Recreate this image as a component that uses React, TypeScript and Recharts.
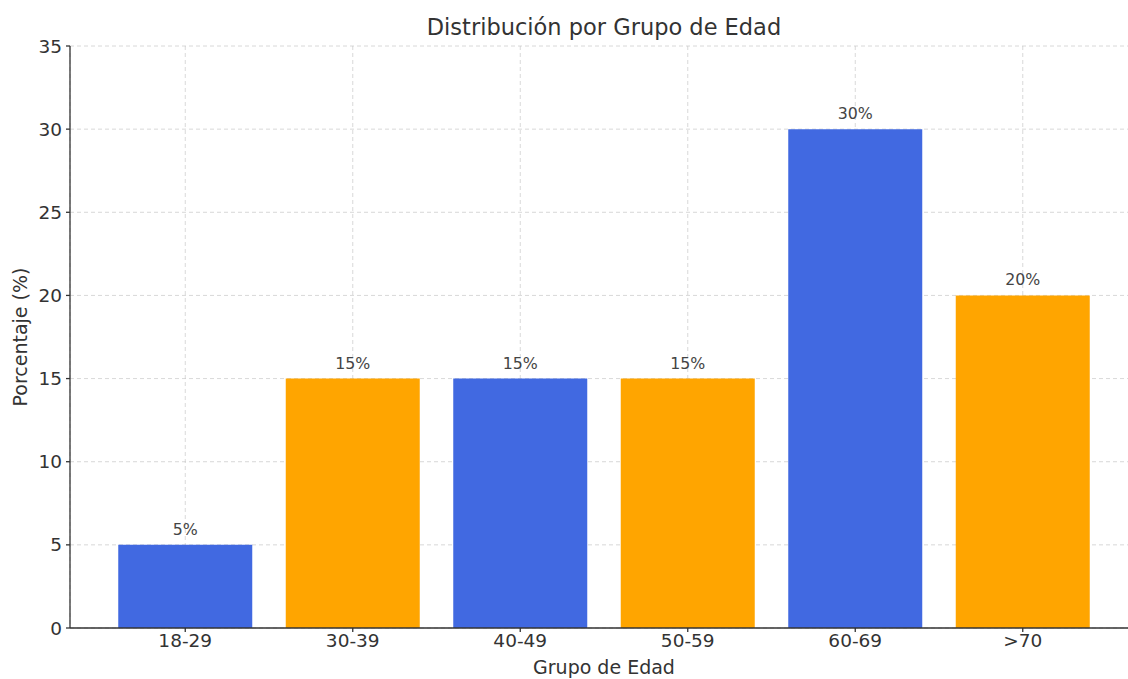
import React from 'react';
import { BarChart, Bar, XAxis, YAxis, CartesianGrid, Cell, LabelList } from 'recharts';

const grupos = ['18-29', '30-39', '40-49', '50-59', '60-69', '>70'];
const porcentajes = [5, 15, 15, 15, 30, 20];
const colores = ['#4169E1', '#FFA500', '#4169E1', '#FFA500', '#4169E1', '#FFA500'];
const yTicks = [0, 5, 10, 15, 20, 25, 30, 35];

const data = grupos.map((g, i) => ({ grupo: g, valor: porcentajes[i] }));

const font = '"DejaVu Sans", sans-serif';
const axisColor = '#333333';

export default function App() {
  return (
    <div style={{ position: 'fixed', left: 0, top: 0, width: 1128, height: 679, overflow: 'hidden', background: '#fff', fontFamily: font }}>
      <div style={{ position: 'absolute', left: 0, top: 12, width: 1208, textAlign: 'center', fontSize: 22.5, color: '#333', lineHeight: '30px' }}>
        Distribución por Grupo de Edad
      </div>
      <BarChart
        width={1140}
        height={679}
        data={data}
        margin={{ top: 46, right: 2, bottom: 0, left: 0 }}
        barCategoryGap="10%"
        style={{ fontFamily: font }}
      >
        <XAxis
          dataKey="grupo"
          height={51}
          padding={{ left: 31.5, right: 31.5 }}
          tick={{ fill: '#333', fontSize: 18.5 }}
          tickSize={4}
          tickMargin={2}
          stroke={axisColor}
          strokeWidth={1.3}
          label={{ value: 'Grupo de Edad', position: 'insideBottom', offset: 5, fill: '#333', fontSize: 19 }}
        />
        <YAxis
          width={70}
          domain={[0, 35]}
          ticks={yTicks}
          tick={{ fill: '#333', fontSize: 18.5 }}
          tickSize={4}
          tickMargin={4}
          stroke={axisColor}
          strokeWidth={1.3}
          label={{ value: 'Porcentaje (%)', angle: -90, position: 'insideLeft', offset: 20, fill: '#333', fontSize: 19, style: { textAnchor: 'middle' } }}
        />
        <Bar dataKey="valor" isAnimationActive={false}>
          {data.map((d, i) => (
            <Cell key={d.grupo} fill={colores[i]} />
          ))}
          <LabelList
            dataKey="valor"
            position="top"
            offset={10}
            formatter={(v: number) => `${v}%`}
            style={{ fill: '#444', fontSize: 15.8, fontFamily: font }}
          />
        </Bar>
        <CartesianGrid stroke="#c8c8c8" strokeOpacity={0.7} strokeDasharray="4 3" />
      </BarChart>
    </div>
  );
}
